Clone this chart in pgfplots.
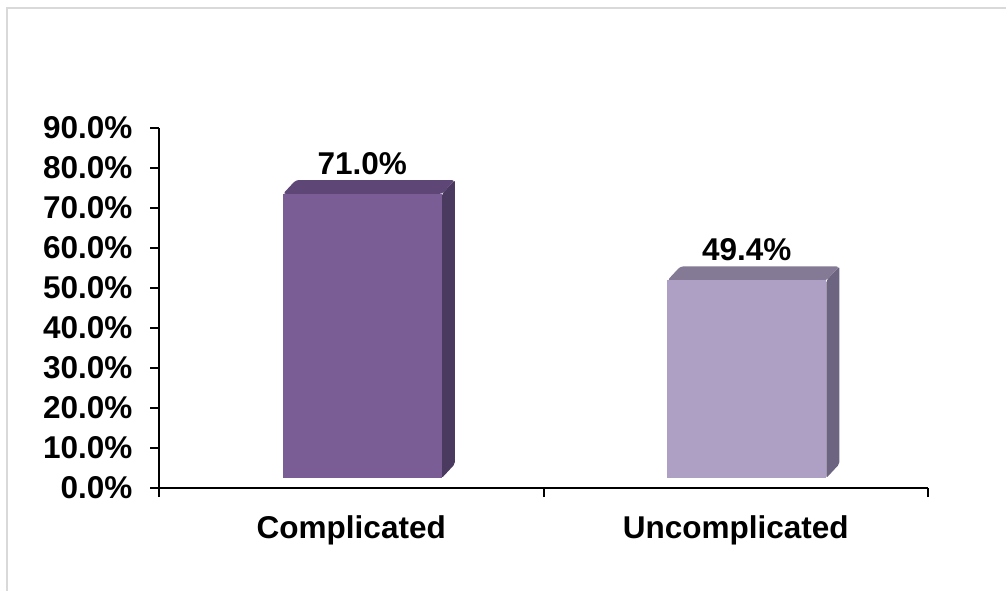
\documentclass[border=0pt]{standalone}
\usepackage{fontspec}
\setmainfont{Liberation Sans}
\usepackage{pgfplots}
\pgfplotsset{compat=1.18}

\definecolor{frontA}{HTML}{795D94}
\definecolor{topA}{HTML}{5E4777}
\definecolor{sideA}{HTML}{4B3A60}
\definecolor{frontB}{HTML}{AE9FC5}
\definecolor{topB}{HTML}{857A95}
\definecolor{sideB}{HTML}{6D6481}
\definecolor{framegray}{HTML}{D9D9D9}

\newcommand{\chartfont}{\fontsize{31.5}{36}\selectfont\bfseries}

\begin{document}
\begin{tikzpicture}[x=1pt,y=1pt]
\useasboundingbox (0,0) rectangle (1006,590);
\fill[white] (0,0) rectangle (1006,590);
\draw[line width=2pt, framegray] (7,-5) -- (7,582) -- (1015,582);
\begin{axis}[
  at={(159pt,102pt)}, anchor=south west, scale only axis,
  width=769pt, height=360pt,
  xmin=-0.5, xmax=1.5, ymin=0, ymax=90,
  clip=false,
  axis lines*=left,
  axis line style={line width=2pt, black},
  tick style={line width=2pt, black},
  tick align=outside,
  major tick length=9pt,
  xtick={-0.5,0.5,1.5}, xticklabels={},
  extra x ticks={0,1},
  extra x tick labels={Complicated,Uncomplicated},
  extra x tick style={major tick length=0pt, tick label style={yshift=-24pt}},
  ytick={0,10,...,90},
  yticklabel={\pgfmathprintnumber[fixed,fixed zerofill,precision=1]{\tick}\%},
  yticklabel style={xshift=-14pt},
  /pgf/number format/assume math mode=true,
  tick label style={font=\chartfont},
  every axis plot/.append style={draw=none, yshift=10pt},
]
% bar 1: side and top faces, then the front
\addplot[fill=sideA, rounded corners=2pt] coordinates {(0.2357,0) (0.2695,3.5) (0.2695,74.5) (0.2357,71.0)} -- cycle;
\addplot[fill=topA, rounded corners=3pt] coordinates {(-0.1778,71.0) (0.2357,71.0) (0.2695,74.5) (-0.1440,74.5)} -- cycle;
% bar 2
\addplot[fill=sideB, rounded corners=2pt] coordinates {(1.2357,0) (1.2695,3.5) (1.2695,52.9) (1.2357,49.4)} -- cycle;
\addplot[fill=topB, rounded corners=3pt] coordinates {(0.8222,49.4) (1.2357,49.4) (1.2695,52.9) (0.8560,52.9)} -- cycle;
% front faces with value labels
\addplot[ybar, bar width=0.4135, bar shift=0.029, fill=frontA,
  nodes near coords={\pgfmathprintnumber[fixed,fixed zerofill,precision=1]{\pgfplotspointmeta}\%},
  every node near coord/.append style={font=\chartfont, anchor=south, xshift=11pt, yshift=16pt}]
  coordinates {(0,71.0)};
\addplot[ybar, bar width=0.4135, bar shift=0.029, fill=frontB,
  nodes near coords={\pgfmathprintnumber[fixed,fixed zerofill,precision=1]{\pgfplotspointmeta}\%},
  every node near coord/.append style={font=\chartfont, anchor=south, xshift=11pt, yshift=16pt}]
  coordinates {(1,49.4)};
\end{axis}
\end{tikzpicture}
\end{document}
